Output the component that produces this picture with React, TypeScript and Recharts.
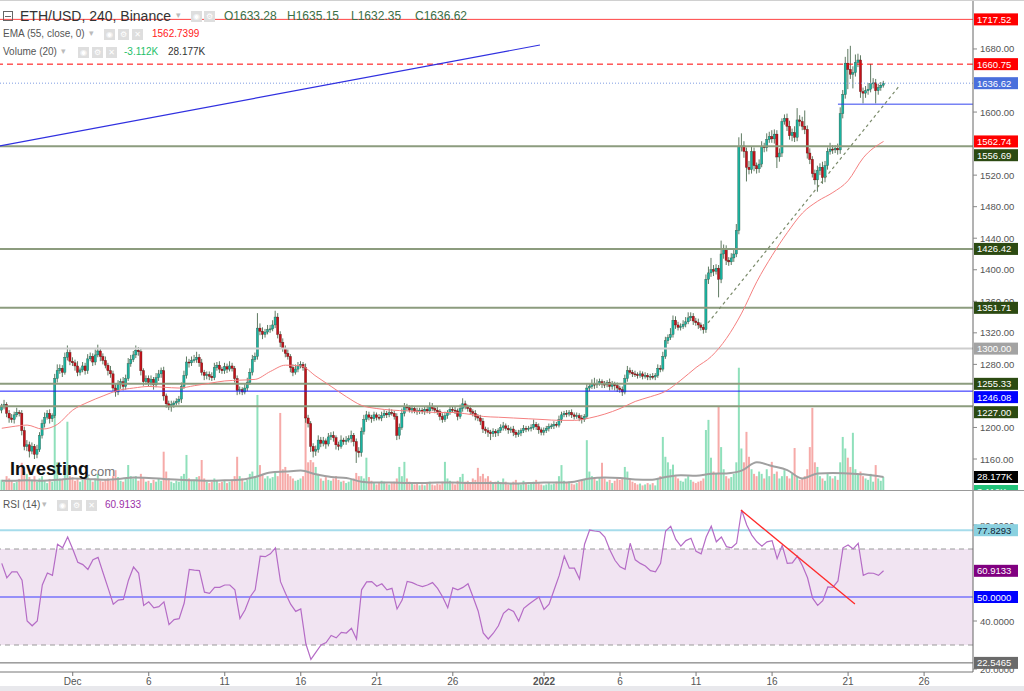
import React from 'react';
import { ComposedChart, Bar, Line, XAxis, YAxis, ReferenceLine, ReferenceArea, Cell } from 'recharts';

const FONT = '"Liberation Sans", Arial, Helvetica, sans-serif';

// 4h candles. k counts candles from Dec 1 00:00, first candle is Nov 26 08:00 (k = -28)
const firstK = -28;
const firstOpen = 1222;

// one row per day, 6 candles a day
const closes = [
  1226, 1229, 1218, 1212,
  1210, 1216, 1219, 1218, 1196, 1176,
  1178, 1170, 1176, 1166, 1172, 1190,
  1205, 1213, 1218, 1211, 1215, 1262,
  1272, 1275, 1270, 1289, 1295, 1284,
  1282, 1278, 1270, 1273, 1278, 1272,
  1287, 1290, 1283, 1292, 1297, 1290,
  1285, 1279, 1272, 1268, 1250, 1245,
  1255, 1258, 1252, 1262, 1281, 1286,
  1292, 1298, 1296, 1272, 1258, 1262,
  1257, 1261, 1254, 1263, 1268, 1272,
  1240, 1230, 1226, 1229, 1231, 1233,
  1236, 1252, 1266, 1283, 1282, 1285,
  1286, 1289, 1282, 1270, 1266, 1267,
  1265, 1263, 1276, 1279, 1274, 1272,
  1277, 1274, 1278, 1275, 1262, 1247,
  1248, 1245, 1250, 1257, 1270, 1286,
  1290, 1326, 1322, 1318, 1321, 1324,
  1325, 1330, 1340, 1318, 1308, 1300,
  1294, 1290, 1276, 1270, 1274, 1278,
  1280, 1276, 1212, 1205, 1176, 1170,
  1172, 1184, 1180, 1183, 1179, 1188,
  1190, 1187, 1178, 1176, 1184, 1182,
  1184, 1186, 1190, 1182, 1170, 1168,
  1195, 1210, 1216, 1213, 1211, 1216,
  1213, 1212, 1215, 1218, 1216, 1219,
  1218, 1214, 1190, 1200, 1218, 1226,
  1225, 1222, 1224, 1221, 1220, 1222,
  1220, 1223, 1221, 1227, 1224, 1222,
  1220, 1214, 1210, 1215, 1219, 1223,
  1222, 1221, 1214, 1224, 1230, 1226,
  1224, 1220, 1218, 1214, 1212, 1208,
  1198, 1196, 1194, 1192, 1195, 1193,
  1196, 1200, 1202, 1199, 1197, 1198,
  1194, 1191, 1193, 1196, 1199, 1198,
  1199, 1200, 1204, 1201, 1197, 1194,
  1196, 1199, 1201, 1202, 1204, 1203,
  1210, 1216, 1218, 1217, 1219, 1216,
  1214, 1215, 1212, 1210, 1214, 1250,
  1252, 1255, 1254, 1256, 1258, 1255,
  1254, 1257, 1252, 1255, 1253, 1250,
  1248, 1245, 1262, 1272, 1270, 1268,
  1267, 1266, 1268, 1265, 1266, 1264,
  1265, 1264, 1266, 1275, 1274, 1290,
  1310, 1314, 1318, 1336, 1330, 1327,
  1328, 1331, 1334, 1339, 1341, 1335,
  1333, 1330, 1327, 1324, 1388, 1396,
  1400, 1398, 1402, 1388, 1420, 1426,
  1412, 1410, 1415, 1420, 1450, 1556,
  1557, 1550, 1530, 1527, 1550, 1532,
  1528, 1534, 1556, 1555, 1565, 1569,
  1566, 1572, 1543, 1548, 1588, 1592,
  1582, 1570, 1574, 1568, 1590, 1588,
  1582, 1578, 1548, 1540, 1522, 1514,
  1526, 1530, 1517, 1532, 1550, 1553,
  1552, 1554, 1552, 1598, 1622, 1662,
  1654, 1648, 1650, 1663, 1666, 1626,
  1624, 1627, 1629, 1636, 1637, 1627,
  1631, 1634, 1636.62,
];

// wick above / below the body, in dollars
const wickUp = [
  4, 6, 3, 4,
  5, 4, 6, 3, 4, 5,
  6, 4, 5, 3, 6, 4,
  5, 6, 4, 5, 3, 6,
  8, 5, 4, 6, 9, 4,
  5, 4, 6, 3, 5, 4,
  6, 5, 4, 7, 8, 4,
  4, 5, 3, 6, 4, 5,
  5, 4, 6, 5, 7, 6,
  5, 6, 4, 5, 3, 4,
  4, 5, 3, 6, 5, 4,
  5, 3, 4, 5, 3, 4,
  4, 5, 6, 7, 4, 5,
  6, 7, 4, 5, 3, 4,
  4, 5, 6, 4, 5, 3,
  5, 4, 6, 4, 3, 4,
  4, 3, 5, 6, 5, 6,
  5, 19, 6, 5, 4, 6,
  5, 6, 8, 5, 4, 5,
  4, 5, 3, 4, 6, 5,
  4, 3, 5, 4, 3, 4,
  5, 6, 4, 5, 3, 5,
  4, 5, 3, 4, 6, 3,
  5, 4, 6, 3, 4, 5,
  5, 6, 5, 4, 3, 4,
  3, 4, 5, 4, 3, 5,
  4, 3, 4, 5, 6, 5,
  4, 3, 4, 3, 4, 3,
  3, 4, 3, 5, 4, 3,
  4, 3, 4, 5, 3, 4,
  3, 4, 3, 5, 7, 4,
  3, 4, 3, 4, 3, 4,
  4, 3, 4, 3, 4, 3,
  3, 4, 5, 3, 4, 3,
  4, 3, 4, 3, 4, 3,
  3, 4, 6, 3, 4, 3,
  4, 3, 4, 3, 4, 3,
  5, 4, 3, 4, 3, 4,
  3, 4, 3, 4, 3, 5,
  4, 6, 8, 5, 4, 3,
  4, 3, 5, 4, 3, 4,
  3, 4, 5, 6, 4, 3,
  4, 3, 4, 3, 4, 3,
  3, 4, 3, 5, 4, 6,
  5, 4, 8, 6, 5, 4,
  4, 5, 6, 7, 5, 4,
  4, 5, 3, 4, 6, 8,
  15, 6, 5, 4, 17, 6,
  5, 4, 6, 5, 8, 12,
  16, 6, 5, 8, 6, 5,
  4, 6, 7, 5, 8, 6,
  8, 6, 5, 6, 4, 5,
  6, 7, 5, 8, 15, 6,
  6, 20, 5, 6, 4, 5,
  6, 5, 7, 6, 5, 8,
  5, 4, 6, 8, 6, 8,
  18, 30, 8, 10, 8, 6,
  5, 6, 8, 25, 6, 5,
  5, 4, 3,
];

const wickDown = [
  4, 3, 5, 6,
  4, 5, 3, 4, 6, 5,
  6, 8, 4, 6, 5, 3,
  4, 5, 3, 6, 4, 3,
  5, 4, 6, 3, 4, 5,
  4, 6, 5, 4, 3, 5,
  4, 3, 5, 4, 3, 6,
  5, 4, 6, 5, 4, 6,
  4, 6, 5, 4, 3, 4,
  3, 4, 5, 6, 5, 4,
  5, 4, 6, 3, 4, 5,
  6, 5, 4, 6, 4, 3,
  4, 5, 3, 4, 6, 4,
  3, 4, 5, 4, 6, 5,
  5, 4, 3, 4, 5, 4,
  4, 5, 3, 4, 5, 6,
  5, 4, 3, 4, 3, 4,
  3, 4, 5, 6, 4, 3,
  4, 3, 4, 5, 6, 4,
  5, 4, 6, 5, 3, 4,
  3, 4, 6, 5, 7, 8,
  6, 4, 5, 4, 6, 3,
  4, 5, 6, 5, 3, 4,
  4, 3, 5, 6, 15, 6,
  5, 4, 3, 4, 5, 3,
  4, 3, 4, 3, 4, 3,
  3, 4, 6, 5, 3, 4,
  4, 3, 4, 3, 4, 3,
  3, 4, 3, 4, 3, 4,
  4, 5, 4, 3, 4, 3,
  3, 4, 5, 3, 4, 3,
  4, 3, 4, 5, 4, 5,
  5, 4, 6, 8, 4, 5,
  4, 3, 4, 3, 5, 4,
  5, 4, 3, 4, 3, 4,
  3, 4, 3, 4, 5, 4,
  4, 3, 4, 3, 4, 3,
  3, 4, 3, 4, 3, 4,
  4, 3, 4, 5, 3, 3,
  4, 3, 5, 4, 3, 5,
  4, 3, 5, 4, 6, 5,
  4, 5, 3, 4, 3, 4,
  3, 4, 3, 4, 3, 4,
  4, 3, 4, 3, 4, 3,
  3, 4, 3, 4, 5, 4,
  4, 3, 4, 3, 4, 5,
  4, 5, 4, 5, 4, 6,
  5, 6, 4, 23, 5, 6,
  6, 5, 4, 5, 4, 5,
  6, 8, 18, 6, 5, 7,
  6, 5, 4, 6, 5, 4,
  5, 6, 14, 6, 5, 4,
  6, 5, 7, 6, 5, 6,
  5, 6, 7, 6, 5, 6,
  15, 6, 8, 6, 5, 4,
  5, 4, 6, 5, 6, 5,
  25, 6, 18, 5, 6, 8,
  13, 6, 5, 4, 6, 16,
  5, 4, 3,
];

// volume per candle, in K
const volumes = [
  22, 18, 30, 25,
  20, 15, 18, 24, 59, 40,
  35, 28, 22, 30, 18, 25,
  30, 20, 15, 24, 18, 174,
  60, 25, 22, 45, 148, 30,
  28, 20, 24, 18, 22, 26,
  30, 22, 18, 25, 35, 20,
  18, 22, 25, 20, 30, 43,
  28, 20, 18, 24, 54, 30,
  25, 30, 20, 35, 28, 18,
  20, 15, 22, 18, 25, 20,
  83, 40, 25, 18, 15, 20,
  18, 30, 35, 76, 25, 20,
  22, 28, 30, 65, 25, 18,
  15, 18, 25, 20, 15, 18,
  20, 15, 18, 22, 30, 72,
  30, 25, 18, 22, 35, 40,
  30, 206, 54, 35, 25, 30,
  25, 28, 40, 30, 167, 45,
  50, 35, 30, 25, 20, 22,
  25, 30, 159, 60, 65, 60,
  50, 35, 25, 20, 28, 22,
  20, 25, 30, 22, 18, 20,
  15, 18, 22, 25, 37, 30,
  30, 25, 70, 28, 20, 15,
  12, 15, 20, 18, 14, 12,
  15, 18, 25, 50, 30, 61,
  25, 18, 15, 12, 14, 10,
  12, 10, 14, 18, 12, 10,
  14, 12, 18, 61, 25, 20,
  15, 12, 20, 28, 35, 18,
  20, 15, 25, 22, 48, 30,
  35, 25, 30, 20, 15, 18,
  20, 15, 25, 18, 12, 15,
  18, 22, 15, 12, 20, 14,
  12, 15, 18, 22, 15, 12,
  10, 12, 15, 12, 14, 18,
  30, 54, 20, 15, 18, 14,
  12, 15, 18, 20, 22, 108,
  40, 30, 25, 20, 28, 59,
  25, 18, 22, 15, 20, 25,
  22, 25, 50, 40, 25, 18,
  15, 12, 14, 10, 12, 15,
  12, 15, 10, 25, 30, 115,
  72, 60, 45, 55, 30, 25,
  20, 18, 25, 30, 22, 18,
  15, 18, 20, 25, 130, 152,
  70, 40, 35, 180, 93, 45,
  30, 25, 28, 35, 60, 265,
  90, 60, 126, 72, 45, 35,
  30, 40, 35, 25, 45, 30,
  61, 35, 40, 25, 30, 43,
  30, 25, 35, 91, 30, 22,
  25, 30, 45, 93, 178, 60,
  50, 30, 25, 20, 35, 30,
  25, 30, 22, 60, 115, 90,
  70, 50, 124, 45, 35, 40,
  30, 25, 22, 35, 18, 54,
  25, 20, 28,
];

// EMA(55) at 00:00 of each day, Nov 27 .. Jan 22; plus first and last candle
const emaDaily = [
  1201, 1203, 1198, 1204, 1222, 1232, 1240, 1247, 1250, 1252,
  1251, 1250, 1253, 1256, 1259, 1260, 1261, 1271, 1279, 1278,
  1265, 1252, 1239, 1228, 1224, 1222, 1221, 1220, 1219, 1219,
  1217, 1214, 1213, 1212, 1211, 1210, 1209, 1209, 1212, 1217,
  1224, 1233, 1239, 1246, 1260, 1276, 1290, 1313, 1345, 1385,
  1418, 1447, 1472, 1487, 1498, 1513, 1542,
];
const emaEnds = [1199, 1562.7399];

// Volume MA(20) at 00:00 of each day, in K
const volMaDaily = [
  20, 21, 20, 22, 25, 24, 22, 24, 27, 26,
  24, 22, 21, 20, 21, 22, 28, 38, 40, 42,
  34, 28, 26, 18, 16, 16, 15, 15, 16, 16,
  15, 15, 15, 14, 15, 16, 16, 18, 25, 27,
  26, 23, 22, 28, 32, 31, 35, 36, 42, 60,
  52, 43, 25, 36, 37, 36, 34,
];
const volMaEnds = [20, 28.177];

// RSI(14) every second candle, from k = -28
const rsiValues = [
  64, 58, 60.5, 60.5, 57, 40, 38, 40, 55, 60, 59, 72, 70.5, 75,
  70, 64.5, 63.5, 61.5, 65.5, 66.5, 60, 53.6, 47, 48.7, 49, 57, 62.5, 60, 46.5,
  48, 45.5, 46, 48, 38.5, 40.6, 41, 47.5, 61.5, 61.2, 61, 52, 51.5, 54, 54,
  55, 55, 53, 41, 44.6, 50, 53, 67, 66.8, 68, 70.5, 56.4, 51.5, 47, 44,
  45, 30.5, 24, 27, 30, 31, 34, 33, 35.3, 35, 37, 32.5, 53, 56.3, 56.4,
  54.5, 55.5, 53, 53.6, 45, 48.7, 56.5, 56, 55, 54.3, 55, 56, 53.6, 50, 45.5,
  53.8, 53, 54, 55.5, 50, 44.2, 35, 32.5, 34.9, 38, 43.2, 45, 44, 40, 45.3,
  47, 48.5, 50, 44.8, 47, 53, 59, 67, 62, 62, 57.5, 72, 77.9, 77.5, 77.2,
  75, 69.6, 65.3, 62.6, 61.5, 72.4, 65.5, 64, 62.9, 61, 60.5, 64, 77.5, 79.5, 74,
  71.2, 73.5, 74.5, 69, 68, 75, 79.5, 73, 75, 71, 70.5, 72.4, 86.25, 80, 75.8,
  73, 71.2, 73, 73.5, 66, 71.5, 64, 64.2, 67, 63, 58, 49.5, 46.5, 48.5, 54.2,
  54, 56.7, 70.5, 71.7, 70, 72.4, 59, 60, 59.9, 59, 60.9133,
];

const dateTicks = [0, 30, 60, 90, 120, 150, 186, 216, 246, 276, 306, 336];
const dateLabels = ['Dec', '6', '11', '16', '21', '26', '2022', '6', '11', '16', '21', '26'];

// only the axis values that are not hidden behind a price tag
const priceTicks = [1160, 1200, 1280, 1320, 1360, 1400, 1440, 1480, 1520, 1600, 1680];
const rsiTicks = [20, 40, 80];

type Tag = { value: number; label: string; bg: string; fg?: string; nudge?: number };

const priceTags: Tag[] = [
  { value: 1717.52, label: '1717.52', bg: '#ff0000' },
  { value: 1660.75, label: '1660.75', bg: '#ff0000' },
  { value: 1636.62, label: '1636.62', bg: '#4a6fdc' },
  { value: 1562.74, label: '1562.74', bg: '#ff0000' },
  { value: 1556.69, label: '1556.69', bg: '#2c4a12', nudge: 9 },
  { value: 1426.42, label: '1426.42', bg: '#2c4a12' },
  { value: 1351.71, label: '1351.71', bg: '#2c4a12' },
  { value: 1300, label: '1300.00', bg: '#a3a3a3' },
  { value: 1255.33, label: '1255.33', bg: '#2c4a12' },
  { value: 1246.08, label: '1246.08', bg: '#0000ff', nudge: 6 },
  { value: 1227, label: '1227.00', bg: '#2c4a12', nudge: 6 },
];
const volumeTags: Tag[] = [
  { value: 28.177, label: '28.177K', bg: '#000000' },
  { value: 0, label: '3.112K', bg: '#22c37a', nudge: 1 },
];
const rsiTags: Tag[] = [
  { value: 77.8293, label: '77.8293', bg: '#8ad1e0', fg: '#123' },
  { value: 60.9133, label: '60.9133', bg: '#800080' },
  { value: 50, label: '50.0000', bg: '#0000ff' },
  { value: 22.5465, label: '22.5465', bg: '#6a6a6a' },
];

const xDomain: [number, number] = [-28.7, 355.3];

type Row = {
  k: number; o: number; c: number; h: number; l: number;
  hl: [number, number]; vol: number; up: boolean; ema?: number; vma?: number;
};

const rows: Row[] = closes.map((c, i) => {
  const o = i === 0 ? firstOpen : closes[i - 1];
  const h = Math.max(o, c) + wickUp[i];
  const l = Math.min(o, c) - wickDown[i];
  return { k: firstK + i, o, c, h, l, hl: [l, h], vol: volumes[i], up: c >= o };
});
// daily indicator points sit on the 00:00 candle of Nov 27 (k = -24) onwards
emaDaily.forEach((v, d) => { rows[-24 + 6 * d - firstK].ema = v; });
volMaDaily.forEach((v, d) => { rows[-24 + 6 * d - firstK].vma = v; });
rows[0].ema = emaEnds[0];
rows[rows.length - 1].ema = emaEnds[1];
rows[0].vma = volMaEnds[0];
rows[rows.length - 1].vma = volMaEnds[1];

const rsiData = rsiValues.map((v, i) => ({ k: firstK + 2 * i, rsi: v }));

function Candle(props: any) {
  const { x, y, width, height, payload } = props;
  if (x == null || payload == null) return null;
  const top = Math.min(y, y + height);
  const span = Math.abs(height);
  const { o, c, h, l, up } = payload as Row;
  const px = (p: number) => top + ((h - p) / (h - l || 1)) * span;
  const cx = x + width / 2;
  const y1 = px(Math.max(o, c));
  const y2 = px(Math.min(o, c));
  return (
    <g>
      <line x1={cx} x2={cx} y1={top} y2={top + span} stroke="#5f7a62" strokeWidth={1} />
      <rect
        x={cx - 1.1}
        y={y1}
        width={2.2}
        height={Math.max(1, y2 - y1)}
        fill={up ? '#19b3a1' : '#c3121a'}
        stroke={up ? '#2c5e4b' : '#5e1212'}
        strokeWidth={0.4}
      />
    </g>
  );
}

function AxisTick(props: any) {
  const { x, y, payload, tags, digits } = props;
  const tag = (tags as Tag[]).find((t) => t.value === payload.value);
  if (tag) {
    const cy = y + (tag.nudge || 0);
    return (
      <g>
        <rect x={x + 1} y={cy - 6} width={44} height={12} fill={tag.bg} />
        <text x={x + 4} y={cy} dy={3.5} fontSize={9.5} fontFamily={FONT} fill={tag.fg || '#fff'}>
          {tag.label}
        </text>
      </g>
    );
  }
  if (digits < 0) return null;
  return (
    <g>
      <line x1={x} x2={x + 4} y1={y} y2={y} stroke="#888" />
      <text x={x + 7} y={y} dy={3.5} fontSize={9.5} fontFamily={FONT} fill="#555">
        {Number(payload.value).toFixed(digits)}
      </text>
    </g>
  );
}

function DateTick(props: any) {
  const { x, y, payload } = props;
  const label = dateLabels[dateTicks.indexOf(payload.value)];
  return (
    <text x={x} y={y} dy="0.71em" textAnchor="middle" fontSize={10} fontFamily={FONT}
      fill="#555" fontWeight={label === '2022' ? 'bold' : 'normal'}>
      {label}
    </text>
  );
}

const IconBox = ({ left, top, glyph }: { left: number; top: number; glyph: string }) => (
  <div style={{
    position: 'absolute', left, top, width: 11, height: 11, background: '#dedede',
    color: '#fff', fontSize: 8, lineHeight: '11px', textAlign: 'center', fontFamily: 'DejaVu Sans',
  }}>{glyph}</div>
);

const Txt = ({ left, top, size, color, children, bold }: any) => (
  <div style={{
    position: 'absolute', left, top, fontSize: size, color, fontFamily: FONT,
    whiteSpace: 'nowrap', lineHeight: 1, fontWeight: bold ? 'bold' : 'normal',
  }}>{children}</div>
);

function VolumePanel() {
  return (
    <ComposedChart width={1024} height={490} data={rows} margin={{ top: 0, right: 0, bottom: 0, left: 0 }}>
      <XAxis dataKey="k" type="number" domain={xDomain} hide allowDataOverflow />
      <YAxis orientation="right" width={51} domain={[0, 1062]} ticks={volumeTags.map((t) => t.value)}
        interval={0} axisLine={false} tickLine={false} tickSize={0} tickMargin={0} allowDataOverflow
        tick={(p: any) => <AxisTick {...p} tags={volumeTags} digits={-1} />} />
      <Bar dataKey="vol" barSize={2} isAnimationActive={false}>
        {rows.map((r) => (
          <Cell key={r.k} fill={r.up ? '#8fe0bb' : '#f6aaa8'} />
        ))}
      </Bar>
      <Line dataKey="vma" type="monotone" connectNulls dot={false} stroke="#a0a0a0" strokeWidth={2}
        isAnimationActive={false} />
    </ComposedChart>
  );
}

function PricePanel() {
  const green = '#8c9c7e';
  return (
    <ComposedChart width={1024} height={490} data={rows} margin={{ top: 0, right: 0, bottom: 0, left: 0 }}>
      <XAxis dataKey="k" type="number" domain={xDomain} hide allowDataOverflow />
      <YAxis orientation="right" width={51} domain={[1120.7, 1742.1]} allowDataOverflow
        ticks={[...priceTicks, ...priceTags.map((t) => t.value)]} interval={0}
        axisLine={{ stroke: '#666' }} tickLine={false} tickSize={0} tickMargin={0}
        tick={(p: any) => <AxisTick {...p} tags={priceTags} digits={2} />} />
      <ReferenceLine y={1717.52} stroke="#f44" />
      <ReferenceLine y={1660.75} stroke="#f00" strokeDasharray="6 4" />
      <ReferenceLine y={1636.62} stroke="#7f9ce2" strokeDasharray="1 2" />
      <ReferenceLine y={1556.69} stroke={green} strokeWidth={2} />
      <ReferenceLine y={1426.42} stroke={green} strokeWidth={2} />
      <ReferenceLine y={1351.71} stroke={green} strokeWidth={2} />
      <ReferenceLine y={1300} stroke="#cdcdcd" strokeWidth={2} />
      <ReferenceLine y={1255.33} stroke={green} strokeWidth={2} />
      <ReferenceLine y={1246.08} stroke="#1a1aff" />
      <ReferenceLine y={1227} stroke={green} strokeWidth={2} />
      <ReferenceLine segment={[{ x: 302, y: 1610 }, { x: 355.3, y: 1610 }]} stroke="#3344ee" />
      <ReferenceLine segment={[{ x: -28.7, y: 1557 }, { x: 184.4, y: 1685 }]} stroke="#3030e0" strokeWidth={1.2} />
      <ReferenceLine segment={[{ x: 250.7, y: 1332.5 }, { x: 326.5, y: 1634.3 }]} stroke="#7a8a6a"
        strokeDasharray="3 3" strokeWidth={1.2} />
      <Line dataKey="ema" type="monotone" connectNulls dot={false} stroke="#f58080" strokeWidth={1}
        isAnimationActive={false} />
      <Bar dataKey="hl" barSize={2} shape={<Candle />} isAnimationActive={false} />
    </ComposedChart>
  );
}

function RsiPanel() {
  return (
    <ComposedChart width={1024} height={202} data={rsiData} margin={{ top: 1, right: 0, bottom: 0, left: 0 }}>
      <XAxis dataKey="k" type="number" domain={xDomain} allowDataOverflow ticks={dateTicks} interval={0}
        height={20} axisLine={{ stroke: '#777' }} tickLine={{ stroke: '#777' }} tickSize={4} tickMargin={2}
        tick={<DateTick />} />
      <YAxis orientation="right" width={51} domain={[18.75, 94.17]} allowDataOverflow
        ticks={[...rsiTicks, ...rsiTags.map((t) => t.value)]} interval={0}
        axisLine={{ stroke: '#666' }} tickLine={false} tickSize={0} tickMargin={0}
        tick={(p: any) => <AxisTick {...p} tags={rsiTags} digits={4} />} />
      <ReferenceArea y1={30} y2={70} fill="#f1e4f2" fillOpacity={1} stroke="none" />
      <ReferenceLine y={70} stroke="#9a9a9a" strokeDasharray="5 4" />
      <ReferenceLine y={30} stroke="#9a9a9a" strokeDasharray="5 4" />
      <ReferenceLine y={77.8293} stroke="#a6dceb" strokeWidth={2} />
      <ReferenceLine y={50} stroke="#3b3bff" />
      <ReferenceLine y={22.5465} stroke="#666" />
      <Line dataKey="rsi" type="linear" connectNulls dot={false} stroke="#b56cc6" strokeWidth={1.2}
        isAnimationActive={false} />
      <ReferenceLine segment={[{ x: 263.7, y: 86.25 }, { x: 308.7, y: 47.1 }]} stroke="#ff2a2a" strokeWidth={1.3} />
    </ComposedChart>
  );
}

export default function App() {
  return (
    <div style={{ position: 'relative', width: 1024, height: 691, background: '#fff', overflow: 'hidden', fontFamily: FONT }}>
      <style>{'body{margin:0}'}</style>
      <div style={{ position: 'absolute', left: 0, top: 0 }}><VolumePanel /></div>
      <div style={{ position: 'absolute', left: 0, top: 0 }}><PricePanel /></div>
      <div style={{ position: 'absolute', left: 0, top: 490, width: 1024, height: 1, background: '#999' }} />
      <div style={{ position: 'absolute', left: 0, top: 490 }}><RsiPanel /></div>
      <div style={{ position: 'absolute', left: 0, top: 686, width: 1024, height: 5, background: '#e8e8ec' }} />
      <div style={{ position: 'absolute', left: 0, top: 0, width: 1024, height: 1, background: '#d0d0d0' }} />

      {/* legend rows */}
      <div style={{ position: 'absolute', left: 3, top: 11, width: 8, height: 8, border: '1px solid #666' }}>
        <div style={{ position: 'absolute', left: 1, top: 3.5, width: 6, height: 1, background: '#666' }} />
      </div>
      <Txt left={20} top={9} size={14} color="#333">ETH/USD, 240, Binance</Txt>
      <Txt left={176} top={11} size={9} color="#bbb">▾</Txt>
      <IconBox left={191} top={11} glyph="◉" />
      <IconBox left={204} top={11} glyph="⚙" />
      <Txt left={224} top={10} size={12} color="#3b6e45">O1633.28</Txt>
      <Txt left={287} top={10} size={12} color="#3b6e45">H1635.15</Txt>
      <Txt left={351} top={10} size={12} color="#3b6e45">L1632.35</Txt>
      <Txt left={415} top={10} size={12} color="#3b6e45">C1636.62</Txt>

      <Txt left={3} top={29} size={10} color="#555">EMA (55, close, 0)</Txt>
      <Txt left={89} top={29} size={9} color="#bbb">▾</Txt>
      <IconBox left={104} top={29} glyph="◉" />
      <IconBox left={118} top={29} glyph="⚙" />
      <IconBox left={132} top={29} glyph="✕" />
      <Txt left={152} top={29} size={10} color="#ff1a1a">1562.7399</Txt>

      <Txt left={3} top={47} size={10} color="#555">Volume (20)</Txt>
      <Txt left={61} top={47} size={9} color="#bbb">▾</Txt>
      <IconBox left={78} top={47} glyph="◉" />
      <IconBox left={92} top={47} glyph="⚙" />
      <IconBox left={106} top={47} glyph="✕" />
      <Txt left={124} top={47} size={10} color="#1fbf6a">-3.112K</Txt>
      <Txt left={168} top={47} size={10} color="#333">28.177K</Txt>

      <Txt left={3} top={500} size={10} color="#555">RSI (14)</Txt>
      <Txt left={42} top={500} size={9} color="#bbb">▾</Txt>
      <IconBox left={57} top={500} glyph="◉" />
      <IconBox left={71} top={500} glyph="⚙" />
      <IconBox left={86} top={500} glyph="✕" />
      <Txt left={105} top={500} size={10} color="#9b30a8">60.9133</Txt>

      {/* watermark */}
      <Txt left={10} top={460} size={18} color="#111" bold>Investing</Txt>
      <Txt left={87} top={465} size={13} color="#777">.com</Txt>
    </div>
  );
}
